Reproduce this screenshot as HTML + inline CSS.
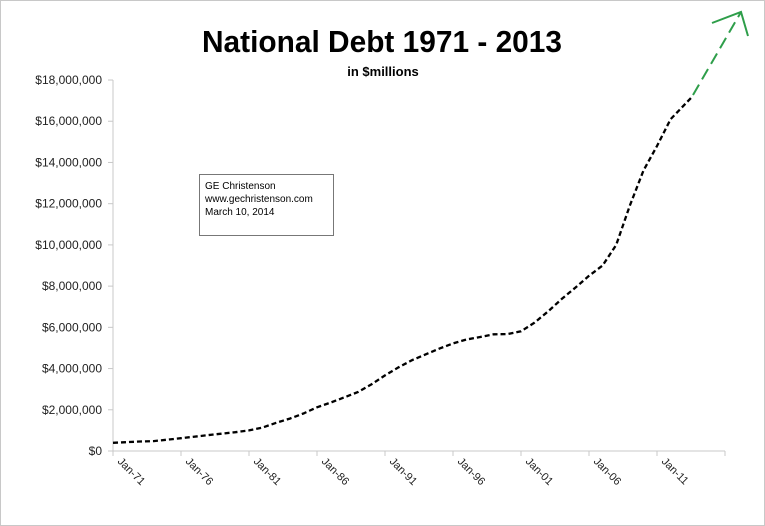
<!DOCTYPE html>
<html><head><style>
body{margin:0;background:#fff}
svg{display:block}
text{font-family:"Liberation Sans",sans-serif}
</style></head><body>
<svg id="s" width="765" height="526" viewBox="0 0 765 526">
<rect x="0.5" y="0.5" width="764" height="525" fill="#fff" stroke="#c8c8c8"/>
<text x="382" y="52" text-anchor="middle" font-size="31" font-weight="bold" textLength="360" lengthAdjust="spacingAndGlyphs">National Debt 1971 - 2013</text>
<text x="383" y="76" text-anchor="middle" font-size="13" font-weight="bold">in $millions</text>
<line x1="113" y1="80" x2="113" y2="451" stroke="#c8c8c8"/>
<line x1="113" y1="451" x2="725" y2="451" stroke="#c8c8c8"/>
<g id="ax" font-size="12" fill="#222"></g>
<rect x="199.5" y="174.5" width="134" height="61" fill="#fff" stroke="#777"/>
<text x="205" y="189" font-size="10">GE Christenson</text>
<text x="205" y="202" font-size="10">www.gechristenson.com</text>
<text x="205" y="215" font-size="10">March 10, 2014</text>
<path id="ln" fill="none" stroke="#000" stroke-width="2.3" stroke-dasharray="5,3"/>
<line x1="693" y1="95" x2="741" y2="12" stroke="#2e9e4a" stroke-width="2" stroke-dasharray="12,6"/>
<polyline points="712,23 741,12 748,36" fill="none" stroke="#2e9e4a" stroke-width="2"/>
</svg>
<script>
var ax=document.getElementById('ax'),ns='http://www.w3.org/2000/svg',h='';
for(var i=0;i<=9;i++){var y=451-i*41.22;var v=i*2;
var lab=v==0?'$0':'$'+v+',000,000';
h+='<line x1="108" y1="'+y+'" x2="113" y2="'+y+'" stroke="#c8c8c8"/>';
h+='<text x="102" y="'+(y+4)+'" text-anchor="end">'+lab+'</text>';}
var yrs=['71','76','81','86','91','96','01','06','11'];
for(var j=0;j<=9;j++){var x=113+j*68;
h+='<line x1="'+x+'" y1="451" x2="'+x+'" y2="456" stroke="#c8c8c8"/>';}
for(var j=0;j<9;j++){var x=113+j*68+4;
h+='<text x="'+x+'" y="462" font-size="11" transform="rotate(45 '+x+' 462)">Jan-'+yrs[j]+'</text>';}
ax.innerHTML=h;
var d=[[1971,.40],[1973,.46],[1974,.48],[1976,.62],[1978,.77],[1980,.91],[1981,1.0],[1982,1.14],[1983,1.37],[1984,1.57],[1985,1.82],[1986,2.12],[1987,2.35],[1988,2.6],[1989,2.86],[1990,3.23],[1991,3.67],[1992,4.06],[1993,4.41],[1994,4.69],[1995,4.97],[1996,5.22],[1997,5.41],[1998,5.53],[1999,5.66],[2000,5.67],[2001,5.81],[2002,6.23],[2003,6.78],[2004,7.38],[2005,7.93],[2006,8.5],[2007,9.0],[2008,10.0],[2009,11.9],[2010,13.6],[2011,14.8],[2012,16.1],[2013.6,17.2]];
var p='';d.forEach(function(a,k){var x=113+(a[0]-1971)*13.6,y=451-a[1]*20.61;p+=(k?'L':'M')+x.toFixed(1)+','+y.toFixed(1);});
document.getElementById('ln').setAttribute('d',p);
</script>
</body></html>
